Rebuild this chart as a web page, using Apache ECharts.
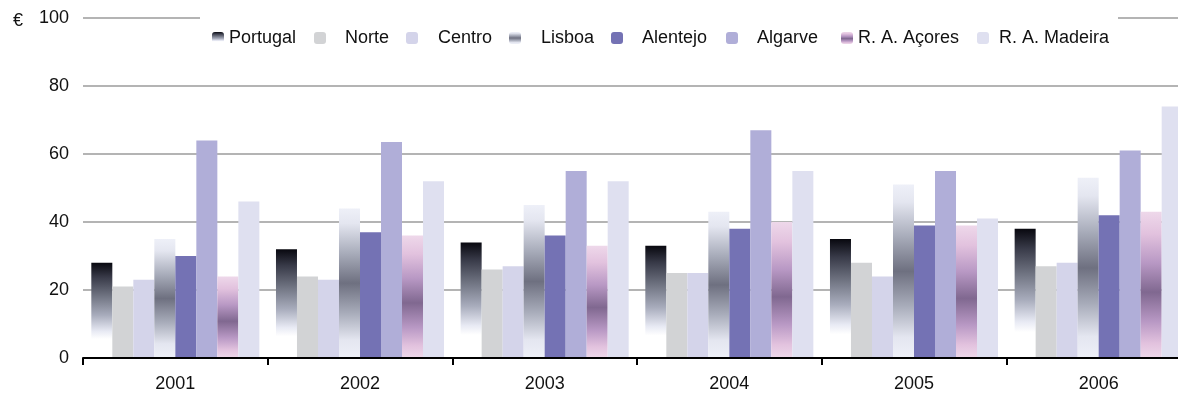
<!DOCTYPE html>
<html>
<head>
<meta charset="utf-8">
<script src="https://cdn.jsdelivr.net/npm/echarts@6/dist/echarts.min.js"></script>
<style>
html,body{margin:0;padding:0;background:#fff;overflow:hidden;width:1178px;height:395px;}
#c{width:1191px;height:395px;}
</style>
</head>
<body>
<div id="c"></div>
<script>
var years = ['2001','2002','2003','2004','2005','2006'];
var yTicks = [0,20,40,60,80,100];
var seriesNames = ['Portugal','Norte','Centro','Lisboa','Alentejo','Algarve','R. A. Açores','R. A. Madeira'];
var portugal = [28, 32, 34, 33, 35, 38];
var norte    = [21, 24, 26, 25, 28, 27];
var centro   = [23, 23, 27, 25, 24, 28];
var lisboa   = [35, 44, 45, 43, 51, 53];
var alentejo = [30, 37, 36, 38, 39, 42];
var algarve  = [64, 63.5, 55, 67, 55, 61];
var acores   = [24, 36, 33, 40, 39, 43];
var madeira  = [46, 52, 52, 55, 41, 74];

function grad(stops){
  return {type:'linear',x:0,y:0,x2:0,y2:1,colorStops:stops.map(function(s){return {offset:s[0],color:s[1]};})};
}
var colors = [
  grad([[0,'#08080f'],[0.15,'#383a48'],[0.35,'#707482'],[0.55,'#a8acbc'],[0.72,'#e8eaf4'],[0.8,'#ffffff'],[1,'#ffffff']]),
  '#d2d3d5',
  '#d4d4ea',
  grad([[0,'#eef0f8'],[0.1,'#e4e6f0'],[0.3,'#a8acba'],[0.5,'#6e7080'],[0.7,'#a8acba'],[0.88,'#e4e6f0'],[1,'#eef0f8']]),
  '#7472b4',
  '#b0aed8',
  grad([[0,'#eed8ea'],[0.15,'#e2c2de'],[0.35,'#b898c4'],[0.55,'#806890'],[0.75,'#b898c4'],[0.9,'#e2c2de'],[1,'#eed8ea']]),
  '#dfe0f0'
];
var data = [portugal,norte,centro,lisboa,alentejo,algarve,acores,madeira];

var legendLeft = [212,314,406,509,611,726,841,977];
var legendPad  = [0,14,15,15,14,14,0,5];

var font = 'Liberation Sans, Arial, sans-serif';
var legends = seriesNames.map(function(n,i){
  return {
    data:[n], left:legendLeft[i], top:29, itemWidth:12, itemHeight:12,
    padding:0, selectedMode:false,
    textStyle:{fontSize:18,color:'#111',fontFamily:font,padding:[0,0,0,legendPad[i]]}
  };
});

var series = seriesNames.map(function(n,i){
  return {
    name:n, type:'bar', data:data[i], barGap:'0%', barCategoryGap:'9%',
    itemStyle:{color:colors[i]}, animation:false
  };
});

var chart = echarts.init(document.getElementById('c'));
chart.setOption({
  animation:false,
  title:{text:'€',left:8,top:7,textStyle:{fontSize:18,fontWeight:'normal',color:'#111',fontFamily:font}},
  legend: legends,
  graphic:[{type:'rect',shape:{x:200,y:8,width:918,height:16},style:{fill:'#fff'},z:1,silent:true}],
  grid:{left:83,right:0,top:18,bottom:37},
  xAxis:{
    type:'category', data:years, z:10,
    axisLine:{show:true,onZero:false,lineStyle:{color:'#000',width:2}},
    axisTick:{show:true,inside:false,alignWithLabel:false,interval:0,length:7,lineStyle:{color:'#000',width:2}},
    axisLabel:{fontSize:18,color:'#111',fontFamily:font,margin:17}
  },
  yAxis:{
    type:'value', min:0, max:100, interval:20,
    axisLine:{show:false}, axisTick:{show:false},
    axisLabel:{fontSize:18,color:'#111',fontFamily:font,margin:14,
      formatter:function(v){return yTicks.indexOf(v)>=0?String(v):'';}},
    splitLine:{lineStyle:{color:'#b4b4b4',width:2}}
  },
  series: series
});
</script>
</body>
</html>
